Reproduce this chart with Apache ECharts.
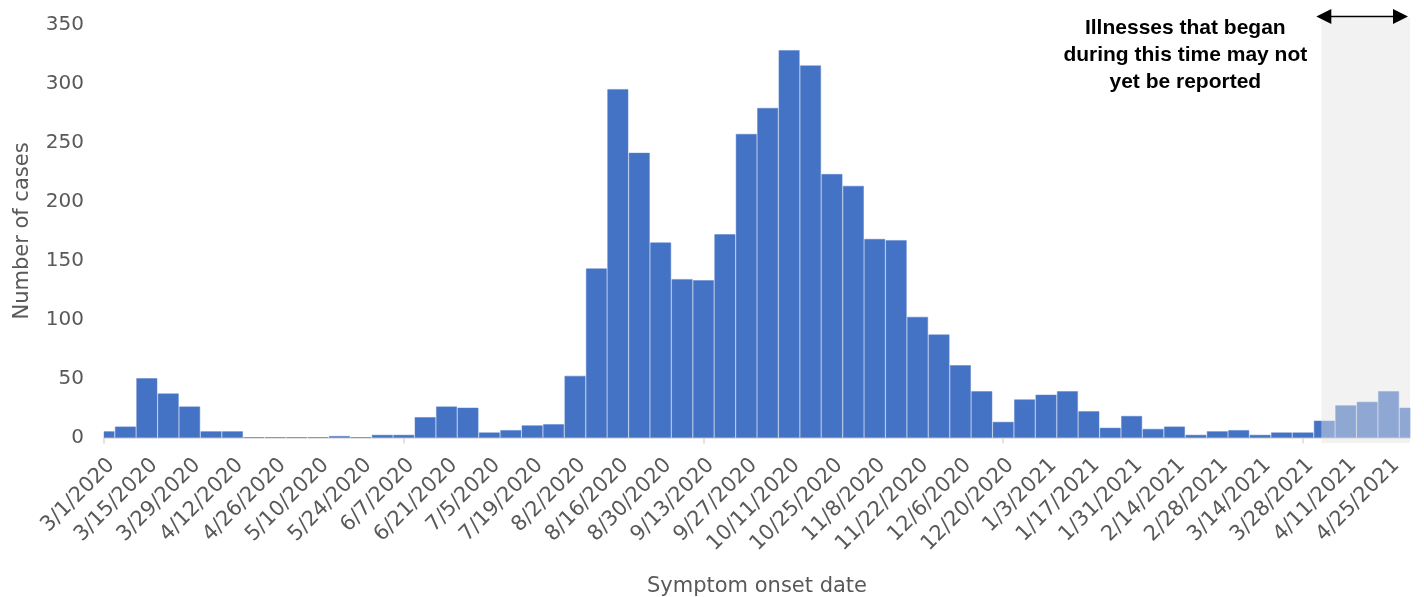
<!DOCTYPE html>
<html>
<head>
<meta charset="utf-8">
<script src="https://cdn.jsdelivr.net/npm/echarts@6/dist/echarts.min.js"></script>
<style>html,body{margin:0;padding:0;background:#fff}#c{width:1424px;height:597px}</style>
</head>
<body>
<div id="c"></div>
<script>
const weeks = [
  '3/1/2020','3/8/2020','3/15/2020','3/22/2020','3/29/2020','4/5/2020','4/12/2020','4/19/2020',
  '4/26/2020','5/3/2020','5/10/2020','5/17/2020','5/24/2020','5/31/2020','6/7/2020','6/14/2020',
  '6/21/2020','6/28/2020','7/5/2020','7/12/2020','7/19/2020','7/26/2020','8/2/2020','8/9/2020',
  '8/16/2020','8/23/2020','8/30/2020','9/6/2020','9/13/2020','9/20/2020','9/27/2020','10/4/2020',
  '10/11/2020','10/18/2020','10/25/2020','11/1/2020','11/8/2020','11/15/2020','11/22/2020','11/29/2020',
  '12/6/2020','12/13/2020','12/20/2020','12/27/2020','1/3/2021','1/10/2021','1/17/2021','1/24/2021',
  '1/31/2021','2/7/2021','2/14/2021','2/21/2021','2/28/2021','3/7/2021','3/14/2021','3/21/2021',
  '3/28/2021','4/4/2021','4/11/2021','4/18/2021','4/25/2021','5/2/2021'
];
const cases = [
  5, 9, 50, 37, 26, 5, 5, 0,
  0, 0, 0, 1, 0, 2, 2, 17,
  26, 25, 4, 6, 10, 11, 52, 143,
  295, 241, 165, 134, 133, 172, 257, 279,
  328, 315, 223, 213, 168, 167, 102, 87,
  61, 39, 13, 32, 36, 39, 22, 8,
  18, 7, 9, 2, 5, 6, 2, 4,
  4, 14, 27, 30, 39, 25
];
const yTicks = [0, 50, 100, 150, 200, 250, 300, 350];
const shadeStartDate = '4/3/2021';
const noteText = 'Illnesses that began\nduring this time may not\nyet be reported';

const FONT = 'DejaVu Sans';
const chart = echarts.init(document.getElementById('c'));
chart.setOption({
  animation: false,
  grid: { left: 104, right: 14, top: 24.5, bottom: 159.5, containLabel: false, outerBoundsMode: 'none' },
  xAxis: {
    type: 'category',
    data: weeks,
    boundaryGap: false,
    name: 'Symptom onset date',
    nameLocation: 'middle',
    nameGap: 139,
    nameTextStyle: { color: '#595959', fontSize: 21, fontFamily: FONT },
    axisLine: { lineStyle: { color: '#d9d9d9', width: 1.5 } },
    axisTick: { show: true, interval: 13, length: 6, lineStyle: { color: '#d9d9d9', width: 1.5 } },
    axisLabel: { interval: 1, rotate: 45, margin: 17, align: 'right', verticalAlign: 'top',
                 color: '#595959', fontSize: 21, fontFamily: FONT },
    splitLine: { show: false }
  },
  yAxis: {
    type: 'value',
    min: yTicks[0],
    max: yTicks[yTicks.length - 1],
    interval: yTicks[1] - yTicks[0],
    name: 'Number of cases',
    nameLocation: 'middle',
    nameGap: 71,
    nameTextStyle: { color: '#595959', fontSize: 21, fontFamily: FONT },
    axisLine: { show: false },
    axisTick: { show: false },
    splitLine: { show: false },
    axisLabel: { margin: 20, color: '#595959', fontSize: 20, fontFamily: FONT }
  },
  series: [{
    type: 'custom',
    data: cases.map((v, i) => [i, v]),
    encode: { x: 0, y: 1 },
    renderItem: function (params, api) {
      const i = api.value(0), v = api.value(1);
      const top = api.coord([i, v]);
      const base = api.coord([i, 0]);
      const bw = api.size([1, 0])[0] * 0.95;
      const cs = params.coordSys;
      const r = echarts.graphic.clipRectByRect(
        { x: top[0] - bw / 2, y: top[1], width: bw, height: base[1] - top[1] },
        { x: cs.x, y: cs.y, width: cs.width, height: cs.height }
      );
      if (!r) return null;
      return { type: 'rect', shape: r,
        style: { fill: '#4472c4', stroke: '#5a82cc', lineWidth: 0.5 } };
    }
  }]
});

function dayIndex(d) {
  const p = d.split('/').map(Number);
  return Date.UTC(p[2], p[0] - 1, p[1]) / 86400000;
}
const d0 = dayIndex(weeks[0]);
const shadeIdx = (dayIndex(shadeStartDate) - d0) / 7;
const i0 = Math.floor(shadeIdx);
const xa = chart.convertToPixel({ xAxisIndex: 0 }, i0);
const xb = chart.convertToPixel({ xAxisIndex: 0 }, i0 + 1);
const shadeLeft = xa + (xb - xa) * (shadeIdx - i0);
const shadeRight = chart.convertToPixel({ xAxisIndex: 0 }, weeks.length - 1);
const yTop = chart.convertToPixel({ yAxisIndex: 0 }, yTicks[yTicks.length - 1]);
const yZero = chart.convertToPixel({ yAxisIndex: 0 }, 0);
const shadeTop = yTop - 7;
const shadeBottom = yZero + 5.5;
const arrowY = shadeTop - 1;
const aL = shadeLeft - 5, aR = shadeRight - 2;

chart.setOption({
  graphic: [
    { type: 'rect', z: 100, silent: true,
      shape: { x: shadeLeft, y: shadeTop, width: shadeRight - shadeLeft, height: shadeBottom - shadeTop },
      style: { fill: 'rgba(227,227,227,0.47)' } },
    { type: 'line', z: 101, shape: { x1: aL + 12, y1: arrowY, x2: aR - 12, y2: arrowY },
      style: { stroke: '#000', lineWidth: 1.5 } },
    { type: 'polygon', z: 101, shape: { points: [[aL, arrowY], [aL + 15, arrowY - 7.5], [aL + 15, arrowY + 7.5]] },
      style: { fill: '#000' } },
    { type: 'polygon', z: 101, shape: { points: [[aR, arrowY], [aR - 15, arrowY - 7.5], [aR - 15, arrowY + 7.5]] },
      style: { fill: '#000' } },
    { type: 'text', z: 101, x: shadeLeft - 136, y: 15,
      style: { text: noteText, fill: '#000', font: 'bold 21px "Liberation Sans"', align: 'center',
               verticalAlign: 'top', lineHeight: 27 } }
  ]
});
</script>
</body>
</html>
